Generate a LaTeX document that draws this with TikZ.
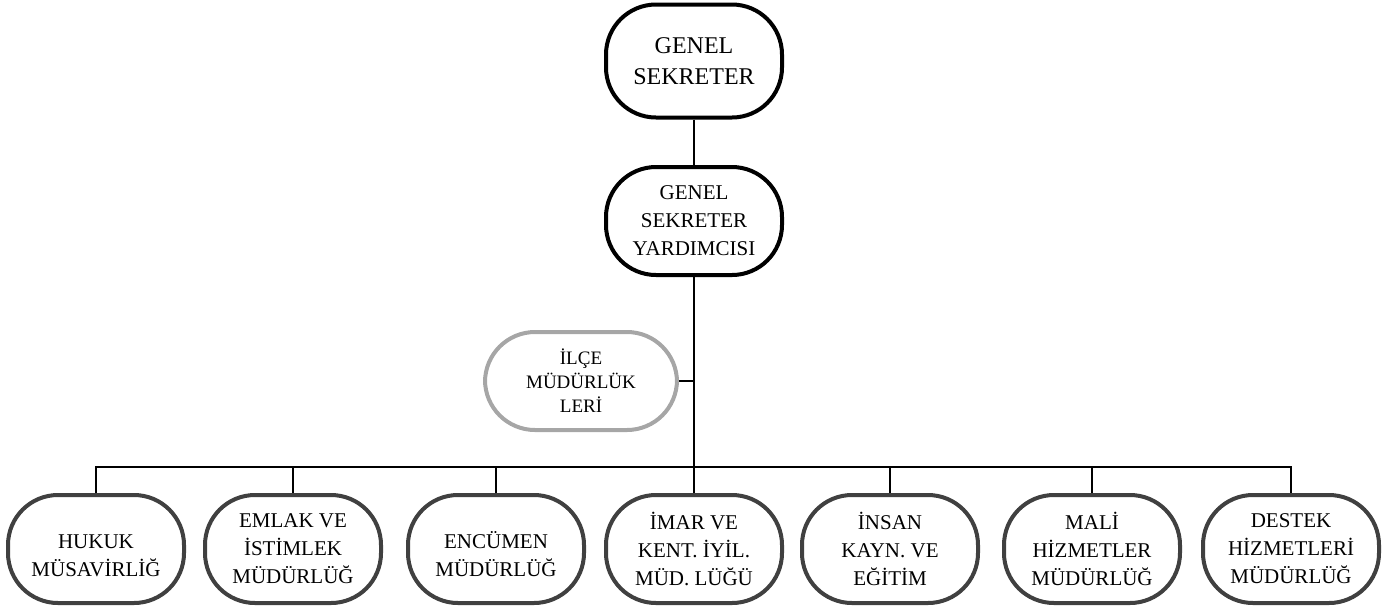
\documentclass[tikz,border=0pt]{standalone}
\usepackage{fontspec}
\setmainfont{Liberation Serif}

\begin{document}
\begin{tikzpicture}[x=0.5pt,y=-0.5pt,
    unit/.style={draw=black!75,line width=2pt,rounded corners=25pt,align=center,
        minimum width=88pt,minimum height=54pt,inner sep=2pt,
        font=\fontsize{10.5}{14}\selectfont},
    head/.style={unit,draw=black},
    side/.style={unit,draw=black!35,minimum width=96pt,minimum height=49pt,
        font=\fontsize{9.5}{12}\selectfont},
    link/.style={line width=0.9pt}]
    \useasboundingbox (0,0) rectangle (1383,607);
    \node [head,minimum height=56.5pt,font=\fontsize{12}{15.5}\selectfont] (gs) at (694,61) {GENEL\\SEKRETER};
    \node [head] (gsy) at (694,221) {GENEL\\SEKRETER\\YARDIMCISI};
    \node [side] (ilce) at (581,381) {İLÇE\\MÜDÜRLÜK\\LERİ};
    \node [unit] (hukuk) at (96,549) {\\HUKUK\\MÜSAVİRLİĞ};
    \node [unit] (emlak) at (293,549) {EMLAK VE\\İSTİMLEK\\MÜDÜRLÜĞ};
    \node [unit] (encumen) at (496,549) {\\ENCÜMEN\\MÜDÜRLÜĞ};
    \node [unit] (imar) at (694,549) {İMAR VE\\KENT. İYİL.\\MÜD. LÜĞÜ};
    \node [unit] (insan) at (890,549) {İNSAN\\KAYN. VE\\EĞİTİM};
    \node [unit] (mali) at (1092,549) {MALİ\\HİZMETLER\\MÜDÜRLÜĞ};
    \node [unit] (destek) at (1291,549) {DESTEK\\HİZMETLERİ\\MÜDÜRLÜĞ};
    \coordinate (bar) at (0,467);
    \draw [link] (gs) -- (gsy);
    \draw [link] (gsy) -- (imar);
    \draw [link] (ilce.east) -- (ilce.east -| gsy.south);
    \draw [link] (hukuk.north) -- (hukuk.north |- bar) -- (destek.north |- bar) -- (destek.north);
    \draw [link] (emlak.north) -- (emlak.north |- bar);
    \draw [link] (encumen.north) -- (encumen.north |- bar);
    \draw [link] (insan.north) -- (insan.north |- bar);
    \draw [link] (mali.north) -- (mali.north |- bar);
\end{tikzpicture}
\end{document}
